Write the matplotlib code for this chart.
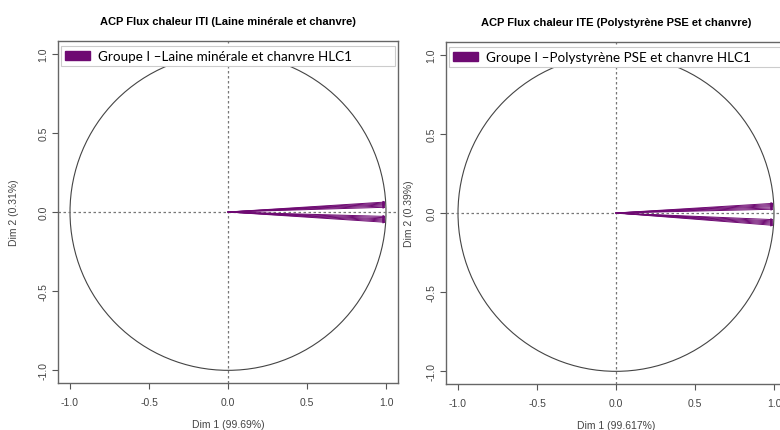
import matplotlib
matplotlib.use("Agg")
import matplotlib.pyplot as plt
from matplotlib.patches import Circle, Patch
import numpy as np

# variable coordinates on the correlation circle (Dim 1, Dim 2)
iti_x = [0.998, 0.998, 0.998, 0.998, 0.998, 0.998, 0.998, 0.998, 0.998, 0.998, 0.998, 0.998]
iti_y = [0.030, 0.038, 0.045, 0.051, 0.057, 0.063, -0.028, -0.036, -0.044, -0.051, -0.058, -0.065]

ite_x = [0.998, 0.998, 0.998, 0.998, 0.998, 0.998, 0.997, 0.997, 0.997, 0.997, 0.997, 0.997]
ite_y = [0.024, 0.032, 0.040, 0.047, 0.054, 0.061, -0.042, -0.050, -0.057, -0.064, -0.071, -0.078]

titles = ["ACP Flux chaleur ITI (Laine minérale et chanvre)",
          "ACP Flux chaleur ITE (Polystyrène PSE et chanvre)"]
legend_labels = ["Groupe I \u2013Laine minérale et chanvre HLC1",
                 "Groupe I \u2013Polystyrène PSE et chanvre HLC1"]
xlabels = ["Dim 1 (99.69%)", "Dim 1 (99.617%)"]
ylabels = ["Dim 2 (0.31%)", "Dim 2 (0.39%)"]
ticks = [-1.0, -0.5, 0.0, 0.5, 1.0]

purple = "#6e0a72"
W, H = 780, 431
fig = plt.figure(figsize=(W / 100, H / 100), dpi=100)
plt.rcParams['font.family'] = ['Liberation Sans', 'DejaVu Sans']

boxes = [(58, 42, 340, 342), (446, 43, 340, 342)]
ylabel_pads = [14, 9]
data = [(iti_x, iti_y), (ite_x, ite_y)]

for i in range(2):
    x0, y0, w, h = boxes[i]
    ax = fig.add_axes([x0 / W, (H - y0 - h) / H, w / W, h / H])
    ax.set_xlim(-1.076, 1.076)
    ax.set_ylim(-1.08, 1.08)
    ax.add_patch(Circle((0, 0), 1, fill=False, color="#444444", lw=0.8))
    ax.axhline(0, color="#777777", ls=(0, (2, 2)), lw=0.9)
    ax.axvline(0, color="#777777", ls=(0, (2, 2)), lw=0.9)
    xs, ys = data[i]
    for x, y in zip(xs, ys):
        ax.annotate("", xy=(x, y), xytext=(0, 0),
                    arrowprops=dict(arrowstyle="-|>", color=purple, lw=0.7,
                                    mutation_scale=3, shrinkA=0, shrinkB=0))
    ax.set_xticks(ticks)
    ax.set_yticks(ticks)
    ax.set_xticklabels(["%.1f" % t for t in ticks], fontsize=7.5, color="#444444")
    ax.set_yticklabels(["%.1f" % t for t in ticks], fontsize=7.5, color="#444444",
                       rotation=90, va="center")
    ax.tick_params(axis="x", length=4, color="#555555", pad=6)
    ax.tick_params(axis="y", length=4, color="#555555", pad=3)
    for s in ax.spines.values():
        s.set_color("#666666")
        s.set_linewidth(1.0)
    ax.set_xlabel(xlabels[i], fontsize=7.5, color="#444444", labelpad=9)
    ax.set_ylabel(ylabels[i], fontsize=7.5, color="#444444", labelpad=ylabel_pads[i])
    ax.set_title(titles[i], fontsize=8, fontweight="bold", pad=12)
    leg = ax.legend(handles=[Patch(color=purple)], labels=[legend_labels[i]],
                    loc="upper left", bbox_to_anchor=(0.01, 0.985, 0.98, 0),
                    mode="expand", frameon=True, fancybox=False,
                    edgecolor="#cccccc", framealpha=1, borderaxespad=0,
                    prop={"family": "Lato", "size": 9.7},
                    handlelength=1.85, handleheight=0.6, borderpad=0.3,
                    handletextpad=0.55)
    leg.get_frame().set_linewidth(0.8)

fig.savefig("out.png", dpi=100)
